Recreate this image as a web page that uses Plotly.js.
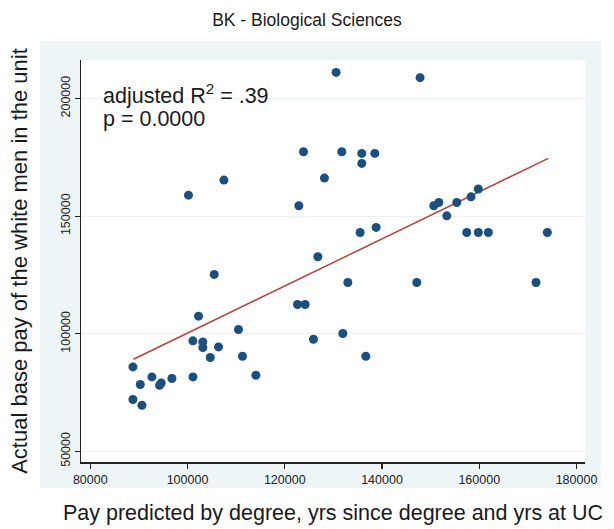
<!DOCTYPE html>
<html>
<head>
<meta charset="utf-8">
<script src="https://cdn.plot.ly/plotly-3.0.1.min.js"></script>
<style>html,body{margin:0;padding:0;background:#fff;}#chart{width:614px;height:529px;}</style>
</head>
<body>
<div id="chart"></div>
<script>
// Predicted pay (x) and actual base pay (y) of the white men in the unit
const predictedPay = [88770, 88770, 90280, 90620, 92680, 94250, 94590, 96790, 100200, 101100,
  101110, 102260, 103150, 103150, 104670, 105490, 106370, 107480, 110480, 111300,
  114060, 122610, 122900, 123850, 124190, 125900, 126800, 128160, 130560, 131730,
  131940, 132970, 135500, 135840, 135840, 136670, 138520, 138790, 147150, 147830,
  150650, 151680, 153320, 155380, 157430, 158310, 159810, 159810, 161870, 171680, 174000];
const actualPay = [85870, 72000, 78380, 69570, 81620, 78080, 79060, 80930, 158900, 96950,
  81620, 107450, 96500, 94100, 89870, 125200, 94380, 165300, 101800, 90420,
  82340, 112400, 154400, 177350, 112400, 97650, 132700, 166160, 211100, 177350,
  100080, 121780, 143050, 176650, 172400, 90420, 176650, 145200, 121780, 208850,
  154400, 155800, 150100, 155800, 143050, 158200, 161500, 143050, 143050, 121780, 143050];
// Fitted regression line endpoints
const fitX = [88900, 174200];
const fitY = [89150, 174550];
const xTicks = [80000, 100000, 120000, 140000, 160000, 180000];
const yTicks = [50000, 100000, 150000, 200000];
const statLines = ['adjusted R<sup>2</sup> = .39', 'p = 0.0000'];

const FONT = '"Liberation Sans", Arial, sans-serif';
const traces = [
  {x: fitX, y: fitY, type: 'scatter', mode: 'lines',
   line: {color: '#b8433b', width: 1.5}, hoverinfo: 'skip', showlegend: false},
  {x: predictedPay, y: actualPay, type: 'scatter', mode: 'markers',
   marker: {color: '#1a4f80', size: 9, line: {width: 0}}, showlegend: false}
];

const layout = {
  width: 614, height: 529,
  margin: {l: 81, r: 29, t: 60, b: 67},
  paper_bgcolor: '#ffffff',
  plot_bgcolor: '#ffffff',
  font: {family: FONT, color: '#1a1a1a'},
  title: {text: 'BK - Biological Sciences', font: {size: 17.5, family: FONT, color: '#1a1a1a'},
          x: 0.5, xref: 'container', xanchor: 'center', y: 1 - 20/529, yref: 'container', yanchor: 'middle'},
  xaxis: {
    range: [78090, 181750], tickvals: xTicks, ticktext: xTicks.map(String),
    showline: true, linecolor: '#222', linewidth: 1.5, mirror: false,
    ticks: 'outside', ticklen: 5, tickwidth: 1.2, tickcolor: '#222',
    showgrid: false, zeroline: false,
    tickfont: {size: 12.5, family: FONT, color: '#222'},
    title: {text: 'Pay predicted by degree, yrs since degree and yrs at UC',
            font: {size: 21.5, family: FONT, color: '#1a1a1a'}, standoff: 19}
  },
  yaxis: {
    range: [45450, 216370], tickvals: yTicks, ticktext: yTicks.map(String),
    tickangle: -90,
    showline: true, linecolor: '#222', linewidth: 1.5, mirror: false,
    ticks: 'outside', ticklen: 5, tickwidth: 1.2, tickcolor: '#222',
    showgrid: true, gridcolor: '#edf3f5', gridwidth: 1, zeroline: false,
    tickfont: {size: 12.5, family: FONT, color: '#222'},
    title: {text: 'Actual base pay of the white men in the unit',
            font: {size: 22, family: FONT, color: '#1a1a1a'}, standoff: 25}
  },
  shapes: [
    {type: 'rect', xref: 'paper', yref: 'paper', x0: -0.0813, x1: 1.0317, y0: -0.0647, y1: 1.0473,
     fillcolor: '#eef5f7', line: {width: 0}, layer: 'below'},
    {type: 'rect', xref: 'paper', yref: 'paper', x0: 0, x1: 1, y0: 0, y1: 1,
     fillcolor: '#ffffff', line: {width: 0}, layer: 'below'}
  ],
  annotations: [
    {text: statLines[0], xref: 'paper', yref: 'paper',
     x: 0.04, y: 0.9154, xanchor: 'left', yanchor: 'middle', align: 'left', showarrow: false,
     font: {size: 21.5, family: FONT, color: '#1a1a1a'}},
    {text: statLines[1], xref: 'paper', yref: 'paper',
     x: 0.04, y: 0.8532, xanchor: 'left', yanchor: 'middle', align: 'left', showarrow: false,
     font: {size: 21.5, family: FONT, color: '#1a1a1a'}}
  ]
};

Plotly.newPlot('chart', traces, layout, {displayModeBar: false, staticPlot: true});
</script>
</body>
</html>
